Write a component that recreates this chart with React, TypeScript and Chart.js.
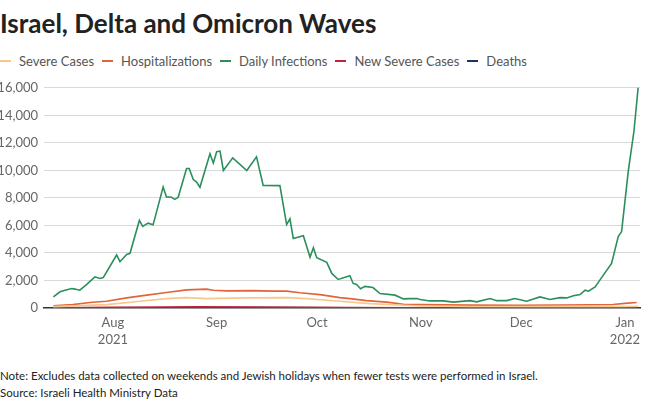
import React, { useEffect, useRef } from "react";
import { Chart, registerables } from "chart.js";

Chart.register(...registerables);

// Day offsets relative to Aug 1, 2021
const monthTickDays = [0, 31, 61, 92, 122, 153];
const monthTickLabels = [["Aug", "2021"], ["Sep"], ["Oct"], ["Nov"], ["Dec"], ["Jan", "2022"]];
const yTicks = [0, 2000, 4000, 6000, 8000, 10000, 12000, 14000, 16000];

const seriesNames = ["Severe Cases", "Hospitalizations", "Daily Infections", "New Severe Cases", "Deaths"];
const seriesColors = ["#f6c88c", "#e2643a", "#2b8f5c", "#c4213a", "#1b3466"];

const infectionDays = [-17.8, -15.8, -14.3, -12.3, -11.4, -9.9, -7.9, -5.4, -3.9, -2.9, 1.1, 2.1, 4.1, 5.1, 7.9, 8.9, 10.5, 12.0, 15.0, 16.0, 17.5, 18.5, 19.5, 22.0, 22.8, 24.0, 25.0, 26.0, 29.0, 30.0, 31.0, 32.0, 33.0, 35.8, 40.0, 42.9, 44.9, 49.9, 51.9, 52.9, 53.9, 56.9, 58.9, 59.9, 60.9, 63.9, 65.4, 67.3, 70.8, 71.8, 72.8, 74.0, 75.3, 77.7, 79.8, 84.3, 86.8, 88.8, 90.8, 91.8, 94.7, 98.7, 101.7, 106.7, 108.7, 112.7, 114.7, 117.7, 120.1, 123.6, 127.6, 130.6, 133.6, 135.6, 137.6, 139.6, 141.1, 142.1, 144.1, 145.5, 149.0, 151.0, 152.0, 154.0, 155.7, 157.0];
const infectionValues = [800, 1170, 1290, 1410, 1370, 1290, 1700, 2260, 2140, 2210, 3850, 3360, 3890, 3970, 6360, 5920, 6160, 6040, 8790, 8070, 8040, 7890, 8040, 10130, 10130, 9330, 9150, 8770, 11200, 10540, 11350, 11400, 9990, 10910, 9990, 10980, 8910, 8890, 6060, 6480, 5040, 5240, 3680, 4380, 3650, 3310, 2510, 2070, 2340, 1780, 1700, 1390, 1570, 1480, 1050, 930, 660, 680, 680, 610, 510, 510, 420, 530, 440, 680, 530, 530, 680, 490, 800, 610, 750, 730, 880, 970, 1290, 1220, 1530, 2020, 3240, 5190, 5550, 9940, 12860, 16150];

const hospDays = [-17.8, -12.0, -6.9, -1.9, 4.1, 10.1, 16.0, 22.0, 28.0, 30.0, 34.0, 41.9, 47.9, 51.9, 55.9, 61.9, 67.8, 70.8, 75.8, 81.8, 86.8, 91.8, 106.7, 121.6, 133.6, 142.6, 149.4, 153.0, 156.5];
const hospValues = [150, 240, 390, 490, 730, 930, 1120, 1310, 1370, 1290, 1240, 1260, 1220, 1220, 1100, 970, 750, 680, 530, 420, 270, 240, 205, 195, 215, 235, 255, 330, 390];

const severeDays = [-17.9, -1.9, 8.1, 16.0, 22.0, 28.0, 40.0, 51.9, 57.9, 67.8, 76.8, 86.7, 91.8, 106.7, 121.6, 139.6, 151.5, 156.9];
const severeValues = [95, 240, 490, 680, 750, 680, 730, 750, 680, 490, 315, 200, 145, 110, 100, 100, 110, 125];

const newSevereDays = [-17.8, 0, 15, 25, 40, 55, 70, 90, 120, 150, 157];
const newSevereValues = [15, 40, 70, 80, 65, 50, 25, 12, 8, 12, 20];

const deathDays = [-17.8, 10, 30, 50, 70, 90, 120, 157];
const deathValues = [2, 15, 25, 20, 10, 4, 3, 2];

const FONT = "Lato, 'Open Sans', sans-serif";

function pts(days: number[], vals: number[]) {
  return days.map((d, i) => ({ x: d, y: vals[i] }));
}

export default function App() {
  const ref = useRef<HTMLCanvasElement | null>(null);

  useEffect(() => {
    if (!ref.current) return;
    const sets = [
      pts(severeDays, severeValues),
      pts(hospDays, hospValues),
      pts(infectionDays, infectionValues),
      pts(newSevereDays, newSevereValues),
      pts(deathDays, deathValues),
    ];
    const chart = new Chart(ref.current, {
      type: "line",
      data: {
        datasets: sets.map((data, i) => ({
          label: seriesNames[i],
          data,
          borderColor: seriesColors[i],
          backgroundColor: seriesColors[i],
          borderWidth: 1.6,
          pointRadius: 0,
          tension: 0,
        })),
      },
      options: {
        animation: false,
        responsive: false,
        layout: { padding: { top: 7, right: 10, left: 0, bottom: 0 } },
        plugins: { legend: { display: false }, tooltip: { enabled: false } },
        scales: {
          x: {
            type: "linear",
            min: -20.6,
            max: 157.5,
            afterBuildTicks: (axis: any) => {
              axis.ticks = monthTickDays.map((v) => ({ value: v }));
            },
            ticks: {
              autoSkip: false,
              maxRotation: 0,
              color: "#666",
              font: { family: FONT, size: 13, lineHeight: 1.31 },
              padding: 6,
              callback: (v: any) => {
                const i = monthTickDays.indexOf(Number(v));
                return i >= 0 ? monthTickLabels[i] : "";
              },
            },
            grid: { display: false, drawTicks: false },
            border: { display: true, color: "#333", width: 1.5 },
          },
          y: {
            min: 0,
            max: 16000,
            afterBuildTicks: (axis: any) => {
              axis.ticks = yTicks.map((v) => ({ value: v }));
            },
            afterFit: (axis: any) => {
              axis.width = 44;
            },
            ticks: {
              color: "#666",
              font: { family: FONT, size: 13 },
              padding: 6,
              callback: (v: any) => Number(v).toLocaleString("en-US"),
            },
            grid: { color: "#d9d9d9", drawTicks: false, lineWidth: 1 },
            border: { display: false },
          },
        },
      },
    });
    return () => chart.destroy();
  }, []);

  return (
    <div style={{ position: "absolute", left: 0, top: 0, width: 650, height: 403, background: "#fff", fontFamily: FONT, overflow: "hidden" }}>
      <div style={{ position: "absolute", left: 0, top: 7, fontSize: 26, fontWeight: 700, color: "#222", whiteSpace: "nowrap" }}>
        Israel, Delta and Omicron Waves
      </div>
      <div style={{ position: "absolute", left: 0, top: 53, display: "flex", alignItems: "center", fontSize: 13, color: "#555", whiteSpace: "nowrap" }}>
        {seriesNames.map((n, i) => (
          <div key={n} style={{ display: "flex", alignItems: "center", marginRight: 8 }}>
            <span style={{ display: "inline-block", width: 11, height: 1.5, background: seriesColors[i], marginRight: 8 }} />
            <span>{n}</span>
          </div>
        ))}
      </div>
      <canvas ref={ref} width={650} height={280} style={{ position: "absolute", left: 0, top: 74, width: 650, height: 280 }} />
      <div style={{ position: "absolute", left: 0, top: 367, fontSize: 11.5, color: "#222", lineHeight: "17px", whiteSpace: "nowrap" }}>
        <div>Note: Excludes data collected on weekends and Jewish holidays when fewer tests were performed in Israel.</div>
        <div>Source: Israeli Health Ministry Data</div>
      </div>
    </div>
  );
}
